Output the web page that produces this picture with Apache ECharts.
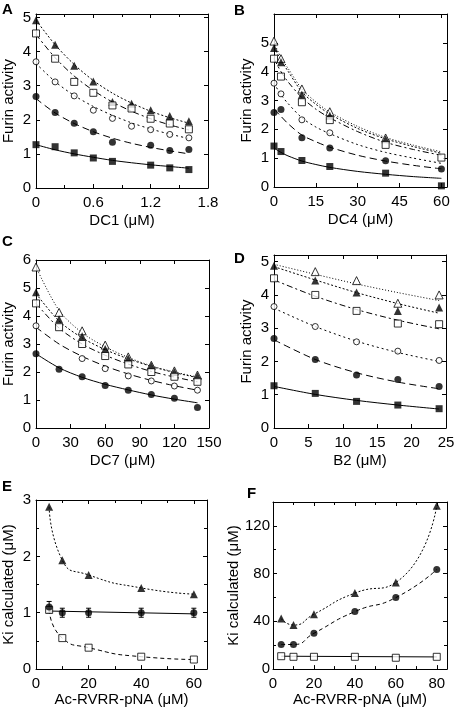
<!DOCTYPE html>
<html><head><meta charset="utf-8">
<script src="https://cdn.jsdelivr.net/npm/echarts@6/dist/echarts.min.js"></script>
<style>html,body{margin:0;padding:0;background:#fff}#c{width:458px;height:708px}</style>
</head><body><div id="c"></div>
<script>
// ---------- Panel A : DC1 ----------
const A_x = [0, 0.2, 0.4, 0.6, 0.8, 1.0, 1.2, 1.4, 1.6];
const A_triF = [4.92, 4.2, 3.58, 3.12, 2.52, 2.47, 2.28, 2.11, 1.96];
const A_sqO  = [4.53, 3.79, 3.11, 2.79, 2.42, 2.33, 2.03, 1.89, 1.72];
const A_circO= [3.70, 3.11, 2.70, 2.28, 2.04, 1.81, 1.71, 1.57, 1.47];
const A_circF= [2.68, 2.21, 1.90, 1.65, 1.34, null, 1.25, 1.10, 1.13];
const A_sqF  = [1.27, 1.21, 1.03, 0.88, 0.78, null, 0.67, 0.59, 0.54];
const A_triF_fit = [4.92, 4.2, 3.62, 3.15, 2.78, 2.49, 2.25, 2.06, 1.9];
const A_sqO_fit  = [4.5, 3.82, 3.28, 2.86, 2.52, 2.25, 2.03, 1.85, 1.7];
const A_circO_fit= [3.65, 3.12, 2.71, 2.39, 2.13, 1.91, 1.73, 1.58, 1.45];
const A_circF_fit= [2.62, 2.2, 1.89, 1.65, 1.46, 1.31, 1.19, 1.09, 1.0];
const A_sqF_fit  = [1.27, 1.12, 1.0, 0.9, 0.81, 0.74, 0.68, 0.63, 0.58];

// ---------- Panel B : DC4 ----------
const B_x = [0, 2.5, 10, 20, 40, 60];
const B_triO = [5.06, 4.45, 3.40, 2.61, 1.70, null];
const B_triF = [4.82, 4.33, 3.20, 2.47, 1.66, null];
const B_sqO  = [4.45, 3.83, 2.94, 2.32, 1.46, 1.02];
const B_circO= [3.60, 3.23, 2.33, 1.88, null, null];
const B_circF= [2.58, 2.69, 1.71, 1.35, 0.91, 0.62];
const B_sqF  = [1.42, 1.23, 0.92, 0.71, 0.48, 0.04];
const B_fit_x = [0, 2.5, 5, 10, 15, 20, 30, 40, 50, 60];
const B_triO_fit = [5.0, 4.5, 4.12, 3.4, 2.95, 2.6, 2.1, 1.72, 1.45, 1.22];
const B_triF_fit = [4.85, 4.4, 4.02, 3.3, 2.87, 2.53, 2.03, 1.67, 1.4, 1.17];
const B_sqO_fit  = [4.45, 4.0, 3.65, 3.1, 2.7, 2.4, 1.92, 1.55, 1.3, 1.1];
const B_circO_fit= [3.6, 3.2, 2.9, 2.4, 2.08, 1.85, 1.47, 1.2, 1.0, 0.82];
const B_circF_fit= [2.7, 2.45, 2.2, 1.8, 1.57, 1.38, 1.1, 0.9, 0.75, 0.63];
const B_sqF_fit  = [1.35, 1.2, 1.08, 0.9, 0.78, 0.68, 0.54, 0.44, 0.36, 0.3];

// ---------- Panel C : DC7 ----------
const C_x = [0, 20, 40, 60, 80, 100, 120, 140];
const C_triO = [5.75, 4.13, 3.47, 2.96, 2.54, 2.24, 2.04, 1.89];
const C_triF = [4.85, 3.88, 3.28, 2.82, 2.48, 2.21, 2.0, 1.86];
const C_sqO  = [4.45, 3.6, 3.0, 2.57, 2.27, 2.0, 1.83, 1.65];
const C_circO= [3.65, null, 2.48, 2.12, 1.86, 1.68, 1.5, 1.35];
const C_circF= [2.65, 2.1, 1.83, 1.52, 1.35, 1.2, 1.06, 0.73];
const C_triO_fit = [5.75, 4.2, 3.4, 2.9, 2.52, 2.22, 2.0, 1.82];
const C_triF_fit = [4.8, 3.82, 3.22, 2.8, 2.47, 2.2, 1.98, 1.8];
const C_sqO_fit  = [4.45, 3.57, 3.0, 2.6, 2.28, 2.02, 1.82, 1.65];
const C_circO_fit= [3.6, 3.0, 2.56, 2.21, 1.93, 1.7, 1.51, 1.35];
const C_circF_fit= [2.65, 2.15, 1.81, 1.56, 1.36, 1.18, 1.03, 0.9];

// ---------- Panel D : B2 ----------
const D_x = [0, 6, 12, 18, 24];
const D_triO = [null, 4.70, 4.43, 3.75, 4.0];
const D_triF = [4.88, 4.43, 4.07, 3.52, 3.62];
const D_sqO  = [4.5, 4.0, 3.52, 3.14, 3.12];
const D_circO= [3.65, 3.05, 2.59, 2.31, 2.03];
const D_circF= [2.69, 2.06, 1.59, 1.46, 1.25];
const D_sqF  = [1.27, 1.04, 0.8, 0.69, 0.58];
const D_triO_fit = [4.92, 4.62, 4.33, 4.07, 3.83];
const D_triF_fit = [4.85, 4.45, 4.07, 3.74, 3.45];
const D_sqO_fit  = [4.45, 3.96, 3.56, 3.24, 2.98];
const D_circO_fit= [3.6, 3.05, 2.61, 2.27, 2.0];
const D_circF_fit= [2.65, 2.06, 1.66, 1.38, 1.18];
const D_sqF_fit  = [1.25, 1.01, 0.83, 0.69, 0.57];

// ---------- Panel E : Ki vs Ac-RVRR-pNA ----------
const E_x = [5, 10, 20, 40, 60];
const E_triF = [2.88, 1.93, 1.67, 1.44, 1.33];
const E_circF = [1.1, 1.0, 1.0, 1.0, 1.0];
const E_circF_err = [0.1, 0.08, 0.08, 0.08, 0.08];
const E_sqO = [1.05, 0.55, 0.38, 0.22, 0.17];
const E_line_x = [5, 60];
const E_line_y = [1.03, 0.98];

// ---------- Panel F : Ki vs Ac-RVRR-pNA ----------
const F_x = [4, 10, 20, 40, 60, 80];
const F_triF = [42.3, 36.9, 46, 63.7, 72.6, 136.9];
const F_circF = [20.6, 20.6, 30, 48.2, 59.9, 83.5];
const F_sqO = [10.8, 10.3, 10.3, 10.3, 9.5, 10.3];
const F_line_x = [4, 80];
const F_line_y = [10.8, 10.2];

// ---------- rendering ----------
const FONT = "'Liberation Sans', Arial, Helvetica, sans-serif";
const FS = 15;
const DASH = {
  sqF: 'solid', circF: [7, 4], circO: [2, 3], sqO: [6, 3, 2, 3], triF: [2, 2], triO: [1, 2]
};
const MARK = {
  sqF:  {symbol: 'rect', symbolSize: 7, itemStyle: {color: '#000'}},
  circF:{symbol: 'circle', symbolSize: 7, itemStyle: {color: '#000'}},
  circO:{symbol: 'circle', symbolSize: 6, itemStyle: {color: '#fff', borderColor: '#000', borderWidth: 1}},
  sqO:  {symbol: 'rect', symbolSize: 7, itemStyle: {color: '#fff', borderColor: '#000', borderWidth: 1}},
  triF: {symbol: 'triangle', symbolSize: 8, itemStyle: {color: '#000'}},
  triO: {symbol: 'triangle', symbolSize: 8, itemStyle: {color: '#fff', borderColor: '#000', borderWidth: 1}}
};
const zip = (xs, ys) => xs.map((x, i) => [x, ys[i]]).filter(p => p[1] !== null && p[1] !== undefined);

const series = [];
function addFit(p, xs, ys, dash, smooth) {
  series.push({type: 'line', xAxisIndex: p, yAxisIndex: p, data: zip(xs, ys),
    smooth: smooth === undefined ? 0.3 : smooth,
    showSymbol: false, silent: true, z: 2,
    lineStyle: {color: '#000', width: 1, type: dash}});
}
function addPts(p, xs, ys, kind) {
  series.push(Object.assign({type: 'scatter', xAxisIndex: p, yAxisIndex: p, data: zip(xs, ys), z: 4}, MARK[kind]));
}

// A
addFit(0, A_x, A_triF_fit, DASH.triF);  addPts(0, A_x, A_triF, 'triF');
addFit(0, A_x, A_sqO_fit, DASH.sqO);    addPts(0, A_x, A_sqO, 'sqO');
addFit(0, A_x, A_circO_fit, DASH.circO);addPts(0, A_x, A_circO, 'circO');
addFit(0, A_x, A_circF_fit, DASH.circF);addPts(0, A_x, A_circF, 'circF');
addFit(0, A_x, A_sqF_fit, DASH.sqF);    addPts(0, A_x, A_sqF, 'sqF');
// B
addFit(1, B_fit_x, B_triO_fit, DASH.triO);  addPts(1, B_x, B_triO, 'triO');
addFit(1, B_fit_x, B_triF_fit, DASH.triF);  addPts(1, B_x, B_triF, 'triF');
addFit(1, B_fit_x, B_sqO_fit, DASH.sqO);    addPts(1, B_x, B_sqO, 'sqO');
addFit(1, B_fit_x, B_circO_fit, DASH.circO);addPts(1, B_x, B_circO, 'circO');
addFit(1, B_fit_x, B_circF_fit, DASH.circF);addPts(1, B_x, B_circF, 'circF');
addFit(1, B_fit_x, B_sqF_fit, DASH.sqF);    addPts(1, B_x, B_sqF, 'sqF');
// C
addFit(2, C_x, C_triO_fit, DASH.triO);  addPts(2, C_x, C_triO, 'triO');
addFit(2, C_x, C_triF_fit, DASH.triF);  addPts(2, C_x, C_triF, 'triF');
addFit(2, C_x, C_sqO_fit, DASH.sqO);    addPts(2, C_x, C_sqO, 'sqO');
addFit(2, C_x, C_circO_fit, [7, 4]);    addPts(2, C_x, C_circO, 'circO');
addFit(2, C_x, C_circF_fit, 'solid');   addPts(2, C_x, C_circF, 'circF');
// D
addFit(3, D_x, D_triO_fit, DASH.triO);  addPts(3, D_x, D_triO, 'triO');
addFit(3, D_x, D_triF_fit, DASH.triF);  addPts(3, D_x, D_triF, 'triF');
addFit(3, D_x, D_sqO_fit, DASH.sqO);    addPts(3, D_x, D_sqO, 'sqO');
addFit(3, D_x, D_circO_fit, DASH.circO);addPts(3, D_x, D_circO, 'circO');
addFit(3, D_x, D_circF_fit, DASH.circF);addPts(3, D_x, D_circF, 'circF');
addFit(3, D_x, D_sqF_fit, DASH.sqF);    addPts(3, D_x, D_sqF, 'sqF');
// E
addFit(4, E_x, E_triF, [2, 2], 0.6);    addPts(4, E_x, E_triF, 'triF');
addFit(4, E_x, E_sqO, [4, 3], 0.6);     addPts(4, E_x, E_sqO, 'sqO');
addFit(4, E_line_x, E_line_y, 'solid', 0);
series.push({type: 'custom', xAxisIndex: 4, yAxisIndex: 4, z: 3,
  data: E_x.map((x, i) => [x, E_circF[i], E_circF_err[i]]),
  encode: {x: 0, y: 1},
  renderItem: function (params, api) {
    const x = api.value(0), y = api.value(1), e = api.value(2);
    const t = api.coord([x, y + e]), b = api.coord([x, y - e]);
    const st = {stroke: '#000', lineWidth: 1};
    return {type: 'group', children: [
      {type: 'line', shape: {x1: t[0], y1: t[1], x2: b[0], y2: b[1]}, style: st},
      {type: 'line', shape: {x1: t[0] - 2.5, y1: t[1], x2: t[0] + 2.5, y2: t[1]}, style: st},
      {type: 'line', shape: {x1: b[0] - 2.5, y1: b[1], x2: b[0] + 2.5, y2: b[1]}, style: st}
    ]};
  }});
addPts(4, E_x, E_circF, 'circF');
// F
addFit(5, F_x, F_triF, [2, 2], 0.6);    addPts(5, F_x, F_triF, 'triF');
addFit(5, F_x, F_circF, [4, 3], 0.6);   addPts(5, F_x, F_circF, 'circF');
addFit(5, F_line_x, F_line_y, 'solid', 0);
addPts(5, F_x, F_sqO, 'sqO');

const grids = [
  {left: 35, top: 14, width: 173, height: 174},
  {left: 274, top: 14, width: 173, height: 173},
  {left: 35, top: 260, width: 174, height: 168},
  {left: 274, top: 255, width: 172, height: 173},
  {left: 33, top: 500, width: 174, height: 173},
  {left: 273, top: 502, width: 174, height: 171}
];
const xs = [
  {min: 0, max: 1.8, interval: 0.6, minor: 2, name: 'DC1 (μM)'},
  {min: 0, max: 62, interval: 15, minor: 0, name: 'DC4 (μM)'},
  {min: 0, max: 150, interval: 30, minor: 0, name: 'DC7 (μM)'},
  {min: 0, max: 25, interval: 5, minor: 0, name: 'B2 (μM)'},
  {min: 0, max: 65, interval: 20, minor: 2, name: 'Ac-RVRR-pNA (μM)'},
  {min: 0, max: 85, interval: 20, minor: 2, name: 'Ac-RVRR-pNA (μM)'}
];
const ys = [
  {min: 0, max: 5.1, interval: 1, minor: 0, name: 'Furin activity'},
  {min: 0, max: 6, interval: 1, minor: 0, name: 'Furin activity', hideMax: true},
  {min: 0, max: 6, interval: 1, minor: 0, name: 'Furin activity'},
  {min: 0, max: 5.2, interval: 1, minor: 0, name: 'Furin activity'},
  {min: 0, max: 3, interval: 1, minor: 2, name: 'Ki calculated (μM)'},
  {min: 0, max: 140, interval: 40, minor: 2, name: 'Ki calculated (μM)'}
];
function fmt(interval, hideVal) {
  return function (v) {
    const k = v / interval;
    if (Math.abs(k - Math.round(k)) > 1e-6) return '';
    if (hideVal !== undefined && Math.abs(v - hideVal) < 1e-6) return '';
    return String(Math.round(v * 10) / 10);
  };
}
const lineSt = {show: true, onZero: false, lineStyle: {color: '#000', width: 1}};
const tickSt = {show: true, inside: true, length: 4, lineStyle: {color: '#000', width: 1}};
function mkAxis(c, i, pos, main, isX) {
  return {
    type: 'value', gridIndex: i, position: pos, min: c.min, max: c.max, interval: c.interval,
    axisLine: lineSt, axisTick: tickSt, splitLine: {show: false},
    minorTick: {show: c.minor > 0, splitNumber: c.minor || 5, length: 3, lineStyle: {color: '#000', width: 1}},
    minorSplitLine: {show: false},
    axisLabel: main ? {show: true, color: '#000', fontSize: FS, fontFamily: FONT, margin: isX ? 7 : (i === 5 ? 3 : 5),
      formatter: fmt(c.interval, c.hideMax ? c.max : undefined)} : {show: false},
    name: main ? c.name : '', nameLocation: 'middle',
    nameTextStyle: {color: '#000', fontSize: FS, fontFamily: FONT}
  };
}
const xAxis = [], yAxis = [];
xs.forEach((c, i) => { const a = mkAxis(c, i, 'bottom', true, true); a.nameGap = i >= 4 ? 22 : 25; xAxis.push(a); });
ys.forEach((c, i) => { const a = mkAxis(c, i, 'left', true, false); a.nameGap = i === 5 ? 24 : 20; yAxis.push(a); });
xs.forEach((c, i) => xAxis.push(mkAxis(c, i, 'top', false, true)));
ys.forEach((c, i) => yAxis.push(mkAxis(c, i, 'right', false, false)));

const letters = [['A', 2, 2], ['B', 234, 3], ['C', 2, 234], ['D', 234, 251], ['E', 2, 479], ['F', 247, 486]];
const graphic = letters.map(l => ({type: 'text', left: l[1], top: l[2],
  style: {text: l[0], fontSize: 15, fontWeight: 'bold', fontFamily: FONT, fill: '#000'}}));

const chart = echarts.init(document.getElementById('c'), null, {renderer: 'canvas'});
chart.setOption({
  animation: false, backgroundColor: '#fff',
  grid: grids, xAxis: xAxis, yAxis: yAxis, series: series, graphic: graphic
});
</script></body></html>
